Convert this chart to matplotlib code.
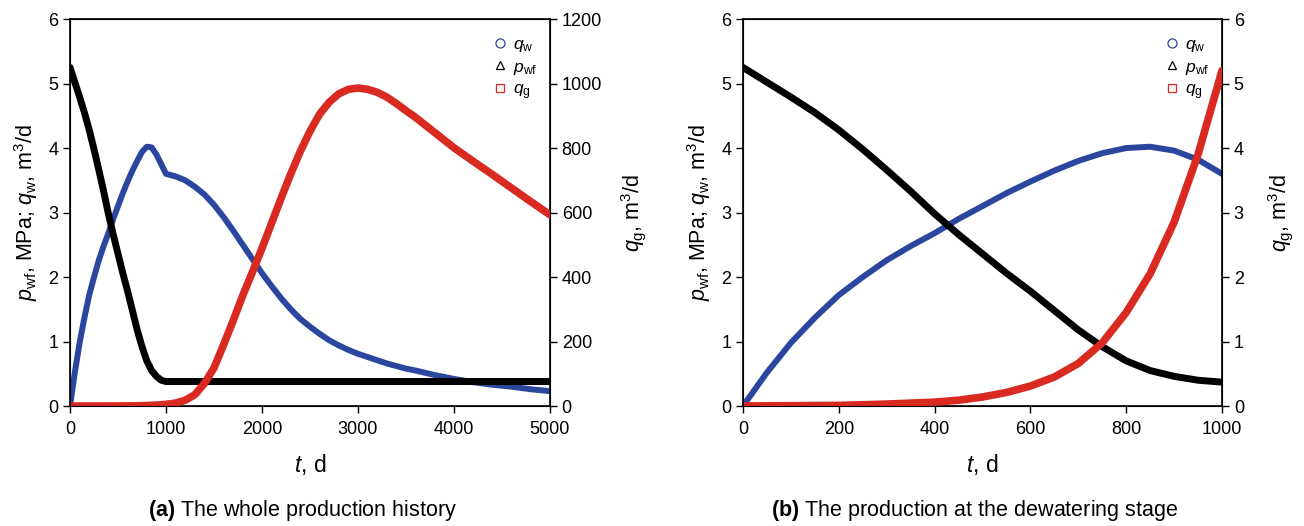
import matplotlib
matplotlib.use("Agg")
import matplotlib.pyplot as plt
from matplotlib.lines import Line2D

plt.rcParams['font.family'] = ['Liberation Sans', 'DejaVu Sans']
plt.rcParams['mathtext.fontset'] = 'custom'
plt.rcParams['mathtext.rm'] = 'Liberation Sans'
plt.rcParams['mathtext.it'] = 'Liberation Sans:italic'
plt.rcParams['mathtext.bf'] = 'Liberation Sans:bold'

BLUE = '#2a469e'
RED = '#d92a22'
BLACK = '#000000'

# (a) whole production history
t_a = [0, 50, 100, 150, 200, 250, 300, 350, 400, 450, 500,
       550, 600, 650, 700, 750, 800, 850, 900, 950, 1000,
       1100, 1200, 1300, 1400, 1500, 1600, 1700, 1800, 1900, 2000,
       2100, 2200, 2300, 2400, 2500, 2600, 2700, 2800, 2900, 3000,
       3100, 3200, 3300, 3400, 3500, 3600, 3800, 4000, 4200, 4400,
       4600, 4800, 5000]
qw_a = [0, 0.52, 0.98, 1.37, 1.72, 2.00, 2.26, 2.48, 2.68, 2.90, 3.10,
        3.30, 3.48, 3.65, 3.80, 3.94, 4.02, 4.01, 3.90, 3.75, 3.60,
        3.56, 3.50, 3.40, 3.28, 3.12, 2.93, 2.72, 2.50, 2.28, 2.06,
        1.86, 1.67, 1.50, 1.35, 1.23, 1.12, 1.02, 0.94, 0.87, 0.81,
        0.76, 0.71, 0.66, 0.62, 0.58, 0.55, 0.48, 0.42, 0.37, 0.33,
        0.30, 0.26, 0.23]
pwf_a = [5.25, 5.02, 4.79, 4.55, 4.28, 3.98, 3.66, 3.33, 2.98, 2.66, 2.36,
         2.06, 1.78, 1.48, 1.18, 0.92, 0.70, 0.55, 0.46, 0.40, 0.38,
         0.38, 0.38, 0.38, 0.38, 0.38, 0.38, 0.38, 0.38, 0.38, 0.38,
         0.38, 0.38, 0.38, 0.38, 0.38, 0.38, 0.38, 0.38, 0.38, 0.38,
         0.38, 0.38, 0.38, 0.38, 0.38, 0.38, 0.38, 0.38, 0.38, 0.38,
         0.38, 0.38, 0.38]
qg_a = [0, 0, 0, 0, 0, 0, 0, 0, 0.1, 0.1, 0.1,
        0.2, 0.3, 0.5, 0.7, 1.0, 1.5, 2.1, 2.9, 4.0, 5.2,
        9, 18, 35, 70, 118, 190, 265, 343, 415, 489,
        567, 645, 720, 790, 852, 905, 942, 968, 982, 986,
        982, 973, 958, 938, 916, 895, 848, 801, 759, 718,
        676, 634, 593]

# (b) dewatering stage
t_b = [0, 50, 100, 150, 200, 250, 300, 350, 400, 450, 500,
       550, 600, 650, 700, 750, 800, 850, 900, 950, 1000]
qw_b = [0, 0.52, 0.98, 1.37, 1.72, 2.00, 2.26, 2.48, 2.68, 2.90, 3.10,
        3.30, 3.48, 3.65, 3.80, 3.92, 4.00, 4.02, 3.96, 3.82, 3.60]
pwf_b = [5.25, 5.02, 4.79, 4.55, 4.28, 3.98, 3.66, 3.33, 2.98, 2.66, 2.36,
         2.06, 1.78, 1.48, 1.18, 0.92, 0.70, 0.55, 0.46, 0.40, 0.37]
qg_b = [0, 0.003, 0.005, 0.008, 0.01, 0.02, 0.03, 0.045, 0.06, 0.09, 0.14,
        0.21, 0.31, 0.45, 0.66, 0.98, 1.45, 2.05, 2.85, 3.90, 5.20]

fig = plt.figure(figsize=(13.04, 5.26), dpi=100)
ax_a = fig.add_axes([0.0537, 0.2281, 0.368, 0.7357])
ax_b = fig.add_axes([0.5698, 0.2281, 0.3673, 0.7357])

legend_handles = [
    Line2D([], [], ls='none', marker='o', mfc='none', mec=BLUE, ms=6.5, mew=0.9),
    Line2D([], [], ls='none', marker='^', mfc='none', mec=BLACK, ms=6, mew=0.9),
    Line2D([], [], ls='none', marker='s', mfc='none', mec=RED, ms=6, mew=0.9),
]
legend_labels = [r'$q_\mathrm{w}$', r'$p_\mathrm{wf}$', r'$q_\mathrm{g}$']


def draw_panel(ax, t, qw, pwf, qg, xmax, xticks, qg_max, qg_ticks, caption):
    ax.plot(t, qw, color=BLUE, lw=4.3, solid_capstyle='round', solid_joinstyle='round', zorder=2)
    ax.plot(t, pwf, color=BLACK, lw=5.0, solid_capstyle='round', solid_joinstyle='round', zorder=3)
    ax.set_xlim(0, xmax)
    ax.set_ylim(0, 6)
    ax.set_xticks(xticks)
    ax.set_yticks(range(7))
    ax.tick_params(labelsize=13, direction='out', length=5, width=1)
    ax.tick_params(axis='x', pad=6)
    for s in ax.spines.values():
        s.set_linewidth(1.2)
    ax.set_xlabel(r'$t$, d', fontsize=16.5, labelpad=10)
    ax.set_ylabel(r'$p_\mathrm{wf}$, MPa; $q_\mathrm{w}$, m$^3$/d', fontsize=15.5, labelpad=6)

    ax2 = ax.twinx()
    ax2.plot(t, qg, color=RED, lw=5.5, solid_capstyle='round', solid_joinstyle='round')
    ax2.set_ylim(0, qg_max)
    ax2.set_yticks(qg_ticks)
    ax2.tick_params(labelsize=13, direction='out', length=5, width=1)
    ax2.set_ylabel(r'$q_\mathrm{g}$, m$^3$/d', fontsize=15.5, labelpad=16 if qg_max < 100 else 12)

    ax2.legend(legend_handles, legend_labels, loc='upper right', bbox_to_anchor=(1.0, 0.985),
               frameon=False, fontsize=12.5, handletextpad=0.25, labelspacing=0.3,
               handlelength=1.0, borderaxespad=0.3)

    pos = ax.get_position()
    fig.text((pos.x0 + pos.x1) / 2 - 0.006, 0.03, caption, ha='center', va='center', fontsize=15.5)


draw_panel(ax_a, t_a, qw_a, pwf_a, qg_a, 5000, [0, 1000, 2000, 3000, 4000, 5000],
           1200, [0, 200, 400, 600, 800, 1000, 1200],
           r'$\mathbf{(a)}$ The whole production history')
draw_panel(ax_b, t_b, qw_b, pwf_b, qg_b, 1000, [0, 200, 400, 600, 800, 1000],
           6, range(7),
           r'$\mathbf{(b)}$ The production at the dewatering stage')

fig.savefig('out.png', dpi=100)
